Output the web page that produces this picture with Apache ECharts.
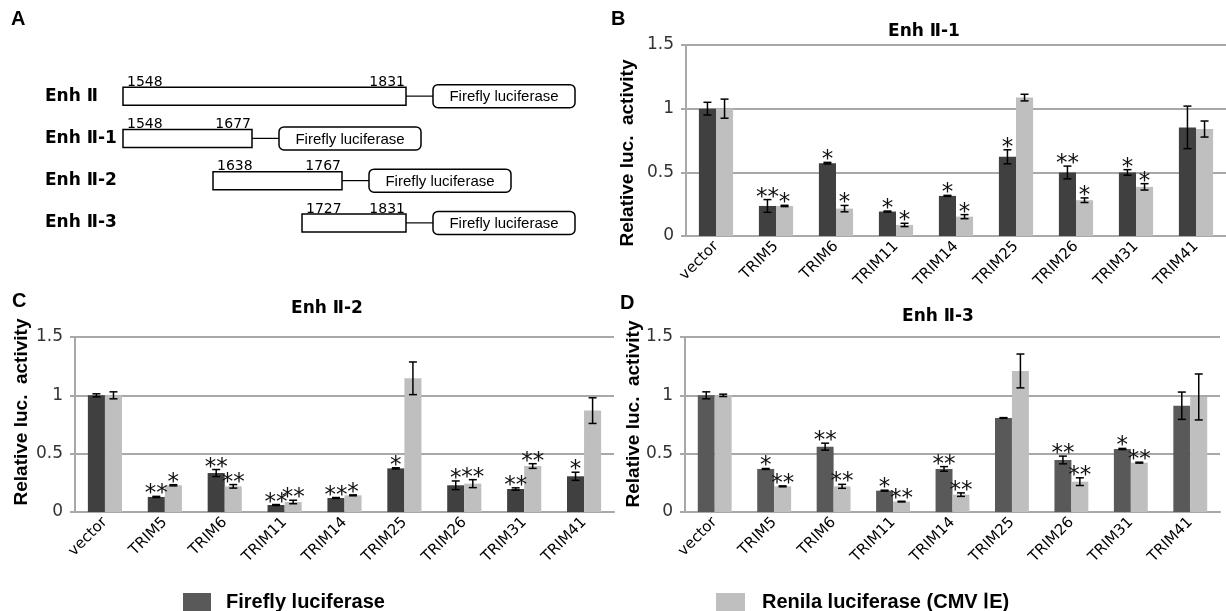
<!DOCTYPE html>
<html><head><meta charset="utf-8">
<script src="https://cdn.jsdelivr.net/npm/echarts@6/dist/echarts.min.js"></script>
<style>html,body{margin:0;padding:0;background:#fff}#c{width:1226px;height:611px}</style>
</head><body><div id="c"></div><script>
// ---------- Panel A: constructs ----------
const fragNames = ['Enh \u2161', 'Enh \u2161-1', 'Enh \u2161-2', 'Enh \u2161-3'];
const fragStart = [1548, 1548, 1638, 1727];
const fragEnd = [1831, 1677, 1767, 1831];
const reporterName = 'Firefly luciferase';

// ---------- Bar panels ----------
const categories = ['vector','TRIM5','TRIM6','TRIM11','TRIM14','TRIM25','TRIM26','TRIM31','TRIM41'];
const yTicks = [0, 0.5, 1, 1.5];
const seriesNames = ['Firefly luciferase', 'Renila luciferase (CMV \u2160E)'];

// B: Enh II-1
const bFire    = [1.00, 0.236, 0.572, 0.192, 0.315, 0.622, 0.499, 0.499, 0.853];
const bFireErr = [0.05, 0.05, 0.006, 0.004, 0.004, 0.055, 0.05, 0.022, 0.167];
const bFireSig = ['', '**', '*', '*', '*', '*', '**', '*', ''];
const bRen     = [1.00, 0.236, 0.215, 0.087, 0.152, 1.087, 0.281, 0.386, 0.84];
const bRenErr  = [0.075, 0.005, 0.025, 0.013, 0.016, 0.026, 0.018, 0.025, 0.063];
const bRenSig  = ['', '*', '*', '*', '*', '', '*', '*', ''];
// C: Enh II-2
const cFire    = [1.00, 0.129, 0.334, 0.06, 0.12, 0.374, 0.229, 0.197, 0.306];
const cFireErr = [0.013, 0.005, 0.03, 0.004, 0.004, 0.005, 0.037, 0.01, 0.035];
const cFireSig = ['', '**', '**', '**', '**', '*', '*', '**', '*'];
const cRen     = [1.00, 0.229, 0.22, 0.086, 0.143, 1.146, 0.243, 0.394, 0.869];
const cRenErr  = [0.03, 0.005, 0.015, 0.015, 0.004, 0.14, 0.034, 0.02, 0.11];
const cRenSig  = ['', '*', '**', '**', '*', '', '**', '**', ''];
// D: Enh II-3
const dFire    = [1.00, 0.369, 0.56, 0.183, 0.369, 0.806, 0.446, 0.54, 0.911];
const dFireErr = [0.03, 0.004, 0.03, 0.004, 0.02, 0.003, 0.033, 0.005, 0.117];
const dFireSig = ['', '*', '**', '*', '**', '', '**', '*', ''];
const dRen     = [1.00, 0.22, 0.22, 0.089, 0.149, 1.209, 0.26, 0.423, 0.986];
const dRenErr  = [0.01, 0.004, 0.017, 0.003, 0.015, 0.145, 0.033, 0.004, 0.197];
const dRenSig  = ['', '**', '**', '**', '**', '', '**', '**', ''];

const panelTitles = ['Enh \u2161-1', 'Enh \u2161-2', 'Enh \u2161-3'];
const yTitle = 'Relative luc.  activity';

const LIGHT = '#bfbfbf';
const GRIDC = '#a8a8a8';
const BARW = 0.285;

const chart = echarts.init(document.getElementById('c'), null, {renderer: 'canvas'});

function renderFrag(params, api) {
  const row = api.value(0), s = api.value(1), e = api.value(2);
  const p1 = api.coord([s, row]), p2 = api.coord([e, row]);
  const y = p1[1], h = 18;
  const fx = p2[0] + 27, fw = 142, fh = 23;
  return {type: 'group', children: [
    {type: 'rect', shape: {x: p1[0], y: y - h / 2, width: p2[0] - p1[0], height: h},
     style: {fill: '#fff', stroke: '#000', lineWidth: 1.5}},
    {type: 'line', shape: {x1: p2[0], y1: y, x2: fx, y2: y}, style: {stroke: '#000', lineWidth: 1.2}},
    {type: 'rect', shape: {x: fx, y: y - fh / 2, width: fw, height: fh, r: 5},
     style: {fill: '#fff', stroke: '#000', lineWidth: 1.5}},
    {type: 'text', style: {text: reporterName, x: fx + fw / 2, y: y + 1, align: 'center', verticalAlign: 'middle',
      font: '15px "Liberation Sans"', fill: '#000'}},
    {type: 'text', style: {text: String(s), x: p1[0] + 4, y: y - h / 2 + 2, align: 'left', verticalAlign: 'bottom',
      font: '14px "DejaVu Sans"', fill: '#000'}},
    {type: 'text', style: {text: String(e), x: p2[0] - 1, y: y - h / 2 + 2, align: 'right', verticalAlign: 'bottom',
      font: '14px "DejaVu Sans"', fill: '#000'}}
  ]};
}

function makeErr(side, sig) {
  return function (params, api) {
    const i = api.value(0), v = api.value(1), e = api.value(2);
    const band = api.size([1, 0])[0];
    const x = api.coord([i, v])[0] + side * band * BARW / 2;
    const yt = api.coord([i, v + e])[1], yb = api.coord([i, v - e])[1];
    const cap = 4;
    const ch = [
      {type: 'line', shape: {x1: x, y1: yt, x2: x, y2: yb}, style: {stroke: '#000', lineWidth: 1.5}},
      {type: 'line', shape: {x1: x - cap, y1: yt, x2: x + cap, y2: yt}, style: {stroke: '#000', lineWidth: 1.5}},
      {type: 'line', shape: {x1: x - cap, y1: yb, x2: x + cap, y2: yb}, style: {stroke: '#000', lineWidth: 1.5}}
    ];
    const s = sig[params.dataIndex];
    if (s) ch.push({type: 'text', style: {text: s, x: x, y: yt - 2, align: 'center', verticalAlign: 'middle',
      font: '23px "DejaVu Sans"', fill: '#111'}});
    return {type: 'group', children: ch};
  };
}

const grids = [
  {left: 123, top: 75, width: 283, height: 169},
  {left: 686, top: 45, width: 540, height: 191},
  {left: 75, top: 337, width: 539, height: 175},
  {left: 685, top: 337, width: 535, height: 175}
];

const xAxes = [{gridIndex: 0, type: 'value', min: 1548, max: 1831, show: false}];
const yAxes = [{gridIndex: 0, type: 'category', data: fragNames, inverse: true,
  axisLine: {show: false}, axisTick: {show: false}, splitLine: {show: false},
  axisLabel: {align: 'left', margin: 78, fontFamily: 'DejaVu Sans', fontWeight: 'bold', fontSize: 17, color: '#000'}}];
const series = [{
  type: 'custom', xAxisIndex: 0, yAxisIndex: 0, renderItem: renderFrag,
  encode: {x: [1, 2], y: 0},
  data: fragNames.map((n, i) => [i, fragStart[i], fragEnd[i]])
}];

const panels = [
  [bFire, bFireErr, bFireSig, bRen, bRenErr, bRenSig, '#404040'],
  [cFire, cFireErr, cFireSig, cRen, cRenErr, cRenSig, '#404040'],
  [dFire, dFireErr, dFireSig, dRen, dRenErr, dRenSig, '#595959']
];

panels.forEach((p, k) => {
  const g = k + 1;
  xAxes.push({gridIndex: g, type: 'category', data: categories,
    axisLine: {lineStyle: {color: GRIDC, width: 2}}, axisTick: {show: false},
    axisLabel: {rotate: 45, interval: 0, margin: 8, fontFamily: 'DejaVu Sans', fontSize: 15, color: '#000'}});
  yAxes.push({gridIndex: g, type: 'value', min: yTicks[0], max: yTicks[yTicks.length - 1], interval: yTicks[1] - yTicks[0],
    axisLine: {show: true, lineStyle: {color: GRIDC, width: 2}},
    axisTick: {show: true, length: 5, lineStyle: {color: GRIDC, width: 2}},
    splitLine: {lineStyle: {color: GRIDC, width: 2}},
    axisLabel: {margin: 12, fontFamily: 'DejaVu Sans', fontSize: 17, color: '#333'}});
  const [fv, fe, fs, rv, re, rs, dark] = p;
  series.push({type: 'bar', name: seriesNames[0], xAxisIndex: g, yAxisIndex: g, data: fv,
    barWidth: (BARW * 100) + '%', barGap: '0%', itemStyle: {color: dark}});
  series.push({type: 'bar', name: seriesNames[1], xAxisIndex: g, yAxisIndex: g, data: rv,
    barWidth: (BARW * 100) + '%', barGap: '0%', itemStyle: {color: LIGHT}});
  series.push({type: 'custom', xAxisIndex: g, yAxisIndex: g, z: 5, renderItem: makeErr(-1, fs),
    encode: {x: 0, y: 1}, data: fv.map((v, i) => [i, v, fe[i]])});
  series.push({type: 'custom', xAxisIndex: g, yAxisIndex: g, z: 5, renderItem: makeErr(1, rs),
    encode: {x: 0, y: 1}, data: rv.map((v, i) => [i, v, re[i]])});
});

const titleStyle = {fontFamily: 'DejaVu Sans', fontWeight: 'bold', fontSize: 17, color: '#000'};
const letterFont = 'bold 20px "Liberation Sans"';
const yTitleFont = 'bold 19px "Liberation Sans"';

chart.setOption({
  animation: false,
  backgroundColor: '#fff',
  grid: grids,
  xAxis: xAxes,
  yAxis: yAxes,
  title: [
    {text: panelTitles[0], left: 919, top: 18, textAlign: 'center', textStyle: titleStyle},
    {text: panelTitles[1], left: 322, top: 295, textAlign: 'center', textStyle: titleStyle},
    {text: panelTitles[2], left: 933, top: 303, textAlign: 'center', textStyle: titleStyle}
  ],
  legend: [
    {data: [{name: seriesNames[0], itemStyle: {color: '#595959'}}], left: 178, top: 587, icon: 'rect',
     itemWidth: 28, itemHeight: 18, selectedMode: false,
     textStyle: {fontFamily: 'Liberation Sans', fontWeight: 'bold', fontSize: 20, color: '#000', padding: [0, 0, 0, 10]}},
    {data: [{name: seriesNames[1], itemStyle: {color: LIGHT}}], left: 711, top: 587, icon: 'rect',
     itemWidth: 29, itemHeight: 18, selectedMode: false,
     textStyle: {fontFamily: 'Liberation Sans', fontWeight: 'bold', fontSize: 20, color: '#000', padding: [0, 0, 0, 12]}}
  ],
  graphic: [
    {type: 'text', left: 11, top: 9, style: {text: 'A', font: letterFont, fill: '#000'}},
    {type: 'text', left: 611, top: 9, style: {text: 'B', font: letterFont, fill: '#000'}},
    {type: 'text', left: 12, top: 291, style: {text: 'C', font: letterFont, fill: '#000'}},
    {type: 'text', left: 620, top: 293, style: {text: 'D', font: letterFont, fill: '#000'}},
    {type: 'text', x: 628, y: 153, rotation: Math.PI / 2,
     style: {text: yTitle, font: yTitleFont, fill: '#000', align: 'center', verticalAlign: 'middle'}},
    {type: 'text', x: 22, y: 412, rotation: Math.PI / 2,
     style: {text: yTitle, font: yTitleFont, fill: '#000', align: 'center', verticalAlign: 'middle'}},
    {type: 'text', x: 634, y: 414, rotation: Math.PI / 2,
     style: {text: yTitle, font: yTitleFont, fill: '#000', align: 'center', verticalAlign: 'middle'}}
  ],
  series: series
});
</script></body></html>
